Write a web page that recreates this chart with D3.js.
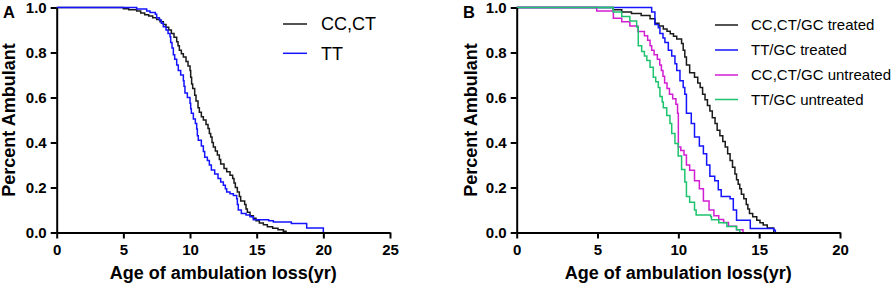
<!DOCTYPE html>
<html>
<head>
<meta charset="utf-8">
<script src="https://cdn.jsdelivr.net/npm/d3@7"></script>
<style>
  html, body { margin: 0; padding: 0; background: #fff; }
  svg { display: block; font-family: "Liberation Sans", Arial, sans-serif; }
</style>
</head>
<body>
<svg id="chart" width="893" height="286"></svg>
<script>
// ---------- DATA ----------
const survivalTicks = [0, 0.2, 0.4, 0.6, 0.8, 1.0];
const ageTicksA = [0, 5, 10, 15, 20, 25];
const ageTicksB = [0, 5, 10, 15, 20];

const namesA = ["CC,CT", "TT"];
const colorsA = ["#1a1a1a", "#1414ff"];
const namesB = ["CC,CT/GC treated", "TT/GC treated", "CC,CT/GC untreated", "TT/GC untreated"];
const colorsB = ["#1a1a1a", "#1414ff", "#d21ed2", "#1ec36e"];

// Panel A: [age (yr), survival]
const ccctA = [[0,1],[5.0,0.995],[5.4,0.99],[6.0,0.984],[6.3,0.976],[6.6,0.968],[6.9,0.962],[7.2,0.955],[7.5,0.947],[7.75,0.937],[8.0,0.925],[8.2,0.912],[8.4,0.9],[8.6,0.885],[8.8,0.868],[9.0,0.848],[9.1,0.83],[9.2,0.81],[9.35,0.795],[9.5,0.78],[9.7,0.76],[9.85,0.74],[10.0,0.72],[10.05,0.69],[10.12,0.66],[10.2,0.64],[10.35,0.61],[10.45,0.585],[10.6,0.555],[10.7,0.535],[10.85,0.515],[11.0,0.5],[11.2,0.48],[11.35,0.462],[11.45,0.44],[11.55,0.425],[11.65,0.4],[11.75,0.38],[11.9,0.362],[12.05,0.345],[12.2,0.325],[12.3,0.305],[12.55,0.285],[12.75,0.27],[13.0,0.255],[13.2,0.24],[13.3,0.22],[13.4,0.2],[13.55,0.18],[13.7,0.16],[13.8,0.14],[14.1,0.125],[14.2,0.105],[14.3,0.09],[14.5,0.075],[14.75,0.063],[14.95,0.052],[15.2,0.042],[15.5,0.034],[15.8,0.026],[16.2,0.019],[16.6,0.012],[17.0,0.006],[17.2,0]];
const ttA = [[0,1],[6.0,0.993],[6.75,0.985],[7.0,0.978],[7.4,0.97],[7.5,0.955],[7.7,0.945],[7.85,0.93],[8.0,0.915],[8.2,0.9],[8.35,0.885],[8.5,0.87],[8.55,0.845],[8.65,0.82],[8.75,0.79],[8.85,0.77],[9.0,0.745],[9.12,0.72],[9.3,0.7],[9.5,0.675],[9.55,0.65],[9.62,0.62],[9.8,0.6],[10.0,0.575],[10.05,0.55],[10.1,0.53],[10.25,0.505],[10.4,0.485],[10.5,0.46],[10.55,0.43],[10.62,0.41],[10.85,0.385],[11.0,0.36],[11.1,0.335],[11.3,0.32],[11.45,0.3],[11.6,0.278],[11.85,0.26],[12.1,0.24],[12.3,0.225],[12.5,0.21],[12.65,0.195],[12.75,0.18],[13.0,0.172],[13.25,0.165],[13.5,0.15],[13.55,0.125],[13.62,0.1],[13.85,0.085],[14.2,0.078],[14.5,0.07],[14.75,0.057],[15.9,0.052],[16.25,0.047],[17.6,0.04],[18.75,0.02],[20.0,0]];

// Panel B
const ccctTreated = [[0,1],[5.97,0.99],[6.5,0.98],[7.1,0.973],[7.7,0.965],[8.25,0.95],[8.55,0.93],[8.8,0.918],[9.07,0.905],[9.3,0.895],[9.5,0.883],[9.7,0.872],[9.9,0.86],[10.2,0.84],[10.3,0.81],[10.4,0.78],[10.5,0.745],[10.7,0.71],[11.0,0.69],[11.2,0.665],[11.35,0.645],[11.5,0.615],[11.65,0.59],[11.8,0.565],[11.95,0.54],[12.1,0.51],[12.27,0.485],[12.4,0.455],[12.57,0.43],[12.75,0.405],[12.9,0.38],[13.05,0.35],[13.2,0.32],[13.35,0.29],[13.5,0.26],[13.6,0.235],[13.7,0.215],[13.8,0.195],[13.9,0.17],[14.05,0.15],[14.2,0.125],[14.3,0.105],[14.4,0.085],[14.6,0.07],[14.85,0.055],[15.05,0.043],[15.25,0.033],[15.5,0.02],[15.9,0]];
const ttTreated = [[0,1],[8.35,0.98],[8.55,0.925],[8.76,0.91],[8.86,0.885],[9.05,0.865],[9.17,0.845],[9.38,0.81],[9.59,0.785],[9.79,0.75],[9.9,0.72],[10.1,0.675],[10.3,0.645],[10.4,0.615],[10.5,0.53],[10.8,0.485],[11.0,0.425],[11.3,0.385],[11.55,0.35],[11.75,0.3],[11.95,0.25],[12.25,0.23],[12.47,0.19],[12.65,0.16],[13.2,0.15],[13.4,0.1],[13.6,0.055],[14.45,0.018],[15.9,0.01],[16.0,0]];
const ccctUntreated = [[0,1],[4.95,0.985],[5.98,0.952],[6.5,0.937],[7.0,0.918],[7.5,0.893],[7.9,0.875],[8.1,0.855],[8.25,0.83],[8.35,0.81],[8.5,0.79],[8.7,0.77],[8.85,0.745],[8.95,0.72],[9.05,0.695],[9.15,0.665],[9.3,0.64],[9.45,0.615],[9.65,0.595],[9.85,0.57],[9.95,0.53],[10.0,0.38],[10.15,0.365],[10.35,0.345],[10.5,0.3],[10.7,0.277],[11.0,0.23],[11.3,0.195],[11.55,0.14],[11.9,0.1],[12.2,0.075],[12.5,0.058],[12.8,0.045],[13.1,0.028],[13.6,0.012],[14.0,0]];
const ttUntreated = [[0,1],[5.97,0.98],[6.5,0.96],[7.0,0.94],[7.42,0.913],[7.52,0.83],[7.73,0.805],[7.9,0.785],[8.05,0.765],[8.25,0.735],[8.45,0.69],[8.6,0.67],[8.76,0.645],[8.86,0.605],[9.0,0.58],[9.07,0.555],[9.28,0.52],[9.48,0.485],[9.59,0.44],[9.79,0.396],[9.99,0.34],[10.2,0.28],[10.4,0.225],[10.5,0.16],[10.7,0.135],[11.0,0.1],[11.1,0.078],[12.0,0.07],[12.05,0.057],[12.5,0.043],[13.0,0.027],[13.6,0.012],[13.8,0]];

const seriesA = [ccctA, ttA];
const seriesB = [ccctTreated, ttTreated, ccctUntreated, ttUntreated];

// ---------- DRAW ----------
const svg = d3.select("#chart");
svg.append("rect").attr("width", 893).attr("height", 286).attr("fill", "#fff");

function panel(opts) {
  const x = d3.scaleLinear().domain([0, opts.xMax]).range([opts.x0, opts.x1]);
  const y = d3.scaleLinear().domain([0, 1]).range([232.5, 7.5]);
  const g = svg.append("g");

  // curves
  const line = d3.line().x(d => x(d[0])).y(d => y(d[1])).curve(d3.curveStepAfter);
  opts.series.forEach((s, i) => {
    g.append("path").datum(s).attr("d", line)
      .attr("fill", "none").attr("stroke", opts.colors[i]).attr("stroke-width", 1.5);
  });

  // axes
  const yAxis = g.append("g").attr("transform", `translate(${opts.x0},0)`)
    .call(d3.axisLeft(y).tickValues(survivalTicks).tickFormat(d3.format(".1f"))
      .tickSize(6).tickSizeOuter(0).tickPadding(4));
  const xAxis = g.append("g").attr("transform", `translate(0,232.5)`)
    .call(d3.axisBottom(x).tickValues(opts.xTicks).tickFormat(d3.format("d"))
      .tickSize(6).tickSizeOuter(0).tickPadding(6));
  [yAxis, xAxis].forEach(a => {
    a.select(".domain").attr("stroke", "#000").attr("stroke-width", 2);
    a.selectAll(".tick line").attr("stroke", "#000").attr("stroke-width", 2);
    a.selectAll(".tick text").attr("fill", "#000")
      .style("font-size", "15px").style("font-weight", "bold")
      .style("font-family", '"Liberation Sans", Arial, sans-serif');
  });

  // axis titles
  g.append("text").attr("x", (opts.x0 + opts.x1) / 2).attr("y", 279)
    .attr("text-anchor", "middle").style("font-size", "18px").style("font-weight", "bold")
    .text("Age of ambulation loss(yr)");
  g.append("text").attr("transform", `translate(${opts.yTitleX},120) rotate(-90)`)
    .attr("text-anchor", "middle").style("font-size", "18px").style("font-weight", "bold")
    .text("Percent Ambulant");

  // panel label
  g.append("text").attr("x", opts.labelX).attr("y", 17.5)
    .style("font-size", "16.5px").style("font-weight", "bold").text(opts.label);

  // legend
  opts.names.forEach((n, i) => {
    const ly = opts.legY[i];
    g.append("line").attr("x1", opts.legX0).attr("x2", opts.legX1)
      .attr("y1", ly).attr("y2", ly).attr("stroke", opts.colors[i]).attr("stroke-width", 1.5);
    g.append("text").attr("x", opts.legTextX).attr("y", ly).attr("dy", "0.36em")
      .style("font-size", opts.legFont).attr("fill", "#000").text(n);
  });
}

panel({
  x0: 56.7, x1: 390, xMax: 25, xTicks: ageTicksA, series: seriesA, colors: colorsA,
  names: namesA, label: "A", labelX: 3, yTitleX: 15,
  legX0: 283, legX1: 307, legTextX: 321, legY: [24, 53.3], legFont: "18px"
});
panel({
  x0: 516.7, x1: 840, xMax: 20, xTicks: ageTicksB, series: seriesB, colors: colorsB,
  names: namesB, label: "B", labelX: 463, yTitleX: 477,
  legX0: 715, legX1: 738, legTextX: 751, legY: [25, 50, 75, 99.5], legFont: "15px"
});
</script>
</body>
</html>
